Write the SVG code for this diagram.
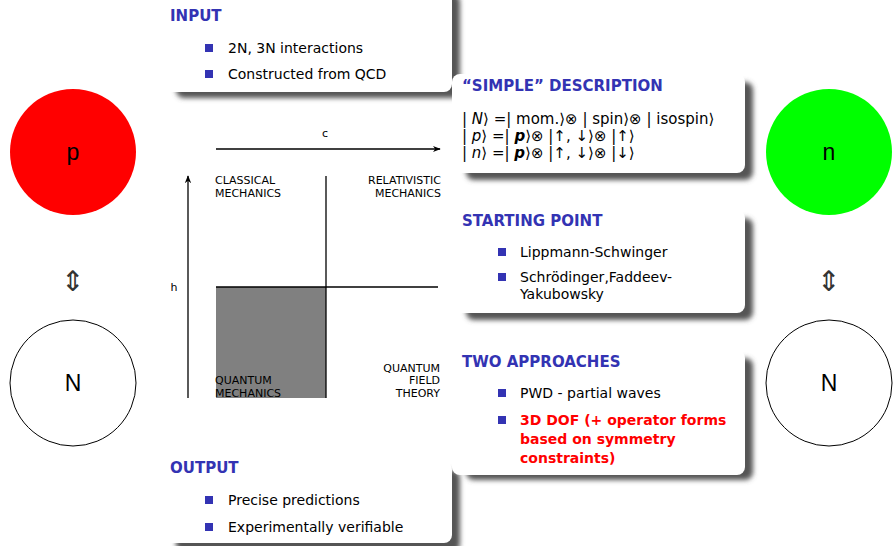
<svg xmlns="http://www.w3.org/2000/svg" width="893" height="546" viewBox="0 0 893 546">
<defs>
<filter id="sh" x="-10%" y="-10%" width="130%" height="130%">
<feGaussianBlur stdDeviation="2.5"/>
</filter>
<marker id="ah" viewBox="0 0 10 10" refX="9" refY="5" markerWidth="8" markerHeight="8" markerUnits="userSpaceOnUse" orient="auto">
<path d="M0,1 L10,5 L0,9 L3,5 Z" fill="#000"/>
</marker>
</defs>
<style>
text{font-family:"DejaVu Sans","Liberation Sans",sans-serif;fill:#000}
.tt{font-size:15px;font-weight:bold;fill:#3333b3}
.it{font-size:14px}
.mt{font-size:15px}
.red{fill:#ff0000;font-weight:bold}
.bul{fill:#3333b3}
.box{fill:#fff}
.shd{fill:#555;filter:url(#sh)}
.sm{font-size:11px}
.big{font-size:23px;font-family:"Liberation Sans",sans-serif}
.arr{font-size:28px;fill:#333}
.ln{stroke:#000;stroke-width:1.3;fill:none}
</style>
<rect width="893" height="546" fill="#fff"/>

<g id="shadows">
<rect class="shd" x="176" y="-6" width="284" height="104" rx="8"/>
<rect class="shd" x="466" y="82" width="287" height="98" rx="8"/>
<rect class="shd" x="466" y="218" width="287" height="102" rx="8"/>
<rect class="shd" x="466" y="358" width="287" height="122" rx="8"/>
<rect class="shd" x="176" y="470" width="284" height="82" rx="8"/>
</g>

<g id="input">
<rect class="box" x="162" y="-12" width="290" height="104" rx="8"/>
<text class="tt" x="170" y="21">INPUT</text>
<rect class="bul" x="205" y="44" width="8" height="8"/>
<text class="it" x="228" y="53">2N, 3N interactions</text>
<rect class="bul" x="205" y="70" width="8" height="8"/>
<text class="it" x="228" y="79">Constructed from QCD</text>
</g>

<g id="simple">
<rect class="box" x="452" y="74" width="293" height="99" rx="8"/>
<text class="tt" x="462" y="91">“SIMPLE” DESCRIPTION</text>
<text class="mt" x="462" y="124">| <tspan font-style="italic">N</tspan>⟩ =| mom.⟩⊗ | spin⟩⊗ | isospin⟩</text>
<text class="mt" x="462" y="141">| <tspan font-style="italic">p</tspan>⟩ =| <tspan font-style="italic" font-weight="bold">p</tspan>⟩⊗ |↑, ↓⟩⊗ |↑⟩</text>
<text class="mt" x="462" y="158">| <tspan font-style="italic">n</tspan>⟩ =| <tspan font-style="italic" font-weight="bold">p</tspan>⟩⊗ |↑, ↓⟩⊗ |↓⟩</text>
</g>

<g id="starting">
<rect class="box" x="452" y="210" width="293" height="103" rx="8"/>
<text class="tt" x="462" y="226">STARTING POINT</text>
<rect class="bul" x="498" y="248" width="8" height="8"/>
<text class="it" x="520" y="257">Lippmann-Schwinger</text>
<rect class="bul" x="498" y="273" width="8" height="8"/>
<text class="it" x="520" y="282">Schrödinger,Faddeev-</text>
<text class="it" x="520" y="299">Yakubowsky</text>
</g>

<g id="approaches">
<rect class="box" x="452" y="350" width="293" height="125" rx="8"/>
<text class="tt" x="462" y="367">TWO APPROACHES</text>
<rect class="bul" x="498" y="389" width="8" height="8"/>
<text class="it" x="520" y="398">PWD - partial waves</text>
<rect class="bul" x="498" y="416" width="8" height="8"/>
<text class="it red" x="520" y="425">3D DOF (+ operator forms</text>
<text class="it red" x="520" y="444">based on symmetry</text>
<text class="it red" x="520" y="463">constraints)</text>
</g>

<g id="output">
<rect class="box" x="162" y="462" width="290" height="81" rx="8"/>
<text class="tt" x="170" y="473">OUTPUT</text>
<rect class="bul" x="205" y="496" width="8" height="8"/>
<text class="it" x="228" y="505">Precise predictions</text>
<rect class="bul" x="205" y="523" width="8" height="8"/>
<text class="it" x="228" y="532">Experimentally verifiable</text>
</g>

<g id="chart">
<rect x="216" y="287" width="110" height="111" fill="#808080"/>
<line class="ln" x1="326" y1="176" x2="326" y2="398"/>
<line class="ln" x1="216" y1="287" x2="438" y2="287"/>
<text class="sm" x="215" y="184">CLASSICAL</text>
<text class="sm" x="215" y="197">MECHANICS</text>
<text class="sm" x="441" y="184" text-anchor="end">RELATIVISTIC</text>
<text class="sm" x="441" y="197" text-anchor="end">MECHANICS</text>
<text class="sm" x="215" y="384">QUANTUM</text>
<text class="sm" x="215" y="397">MECHANICS</text>
<text class="sm" x="440" y="372" text-anchor="end">QUANTUM</text>
<text class="sm" x="440" y="384" text-anchor="end">FIELD</text>
<text class="sm" x="440" y="397" text-anchor="end">THEORY</text>
<text class="sm" x="325" y="137" text-anchor="middle">c</text>
<text class="sm" x="174" y="291" text-anchor="middle">h</text>
</g>

<g id="connectors">
<line class="ln" x1="216" y1="149" x2="440" y2="149" marker-end="url(#ah)"/>
<line class="ln" x1="188" y1="398" x2="188" y2="176" marker-end="url(#ah)"/>
</g>

<g id="p">
<circle cx="73" cy="152" r="63" fill="#ff0000"/>
<text class="big" x="73" y="160" text-anchor="middle">p</text>
</g>
<g id="pN-arrow">
<text class="arr" x="73" y="291" text-anchor="middle">⇕</text>
</g>
<g id="N-left">
<circle cx="73" cy="383" r="63" fill="#fff" stroke="#000" stroke-width="1"/>
<text class="big" x="73" y="391" text-anchor="middle">N</text>
</g>
<g id="n">
<circle cx="829" cy="152" r="63" fill="#00ff00"/>
<text class="big" x="829" y="160" text-anchor="middle">n</text>
</g>
<g id="nN-arrow">
<text class="arr" x="829" y="291" text-anchor="middle">⇕</text>
</g>
<g id="N-right">
<circle cx="829" cy="383" r="63" fill="#fff" stroke="#000" stroke-width="1"/>
<text class="big" x="829" y="391" text-anchor="middle">N</text>
</g>
</svg>
